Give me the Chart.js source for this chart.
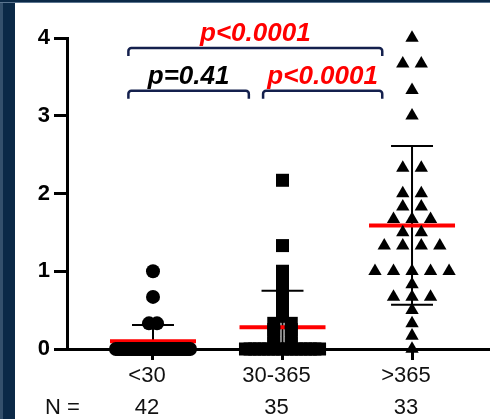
<!DOCTYPE html>
<html>
<head>
<meta charset="utf-8">
<script src="https://cdn.jsdelivr.net/npm/chart.js@4.4.1/dist/chart.umd.min.js"></script>
<style>
  html, body { margin: 0; padding: 0; background: #fff; }
  #wrap { position: relative; width: 490px; height: 419px; overflow: hidden; }
  #edgeLeft { position: absolute; left: 0; top: 0; width: 12px; height: 419px; background: #0b2947; border-left: 3px solid #34506c; }
  #edgeTop { position: absolute; left: 0; top: 0; width: 490px; height: 2px; background: #0b2947; border-bottom: 1px solid #5b7590; }
  canvas { position: absolute; left: 0; top: 0; }
</style>
</head>
<body>
<div id="wrap">
  <div id="edgeLeft"></div>
  <div id="edgeTop"></div>
  <canvas id="dotChart" width="490" height="419"></canvas>
</div>
<script>
// 分组与样本数
const groups = ["<30", "30-365", ">365"];
const groupN = [42, 35, 33];
const yTicks = [0, 1, 2, 3, 4];

// 各组个体值
const under30 = [1.0, 0.67, 0.33, 0.33,
  0, 0, 0, 0, 0, 0, 0, 0, 0, 0, 0, 0, 0, 0, 0, 0, 0, 0, 0,
  0, 0, 0, 0, 0, 0, 0, 0, 0, 0, 0, 0, 0, 0, 0, 0, 0, 0, 0];
const from30to365 = [2.17, 1.33, 1.0, 0.92, 0.83, 0.75, 0.67, 0.58, 0.5, 0.42,
  0.33, 0.33, 0.25, 0.25, 0.17, 0.17, 0.08, 0.08,
  0, 0, 0, 0, 0, 0, 0, 0, 0, 0, 0, 0, 0, 0, 0, 0, 0];
const over365 = [4.0, 3.67, 3.67, 3.33, 3.0, 2.33, 2.33, 2.0, 2.0, 1.83, 1.83,
  1.67, 1.67, 1.67, 1.5, 1.5, 1.33, 1.33, 1.33, 1.33,
  1.0, 1.0, 1.0, 1.0, 1.0, 0.83, 0.67, 0.67, 0.67, 0.5, 0.33, 0.17, 0];

// 均值 ± SD
const groupMean = [0.10, 0.28, 1.59];
const groupSD = [0.21, 0.47, 1.02];

// 两两比较的 p 值
const comparisons = [[1, 2], [2, 3], [1, 3]];
const pValues = ["p=0.41", "p<0.0001", "p<0.0001"];

const FONT = "'Liberation Sans', Arial, sans-serif";

// 同值的点横向排开（散点蜂群），step 为相邻点间距，整行最宽 0.572
function swarm(values, center, step) {
  const rows = new Map();
  values.forEach(v => {
    const k = v.toFixed(2);
    if (!rows.has(k)) rows.set(k, []);
    rows.get(k).push(v);
  });
  const pts = [];
  rows.forEach(row => {
    const n = row.length;
    const s = n > 1 ? Math.min(step, 0.572 / (n - 1)) : 0;
    row.forEach((v, i) => pts.push({ x: center + (i - (n - 1) / 2) * s, y: v }));
  });
  return pts;
}

const meanLine = [];
const sdBars = [];
groupMean.forEach((m, i) => {
  const c = i + 1;
  const hi = m + groupSD[i];
  const lo = m - groupSD[i];
  meanLine.push({ x: c - 0.332, y: m }, { x: c + 0.332, y: m }, { x: c, y: null });
  sdBars.push(
    { x: c - 0.162, y: hi }, { x: c + 0.162, y: hi }, { x: c, y: null },
    { x: c, y: hi }, { x: c, y: lo }, { x: c, y: null },
    { x: c - 0.162, y: lo }, { x: c + 0.162, y: lo }, { x: c, y: null }
  );
});

// 括号与 p 值标注
const bracketGeom = [
  { from: 0.81, to: 1.74, y: 3.32 },
  { from: 1.85, to: 2.77, y: 3.32 },
  { from: 0.81, to: 2.77, y: 3.87 }
];

const annotate = {
  id: "annotate",
  afterDraw(chart) {
    const { ctx, chartArea } = chart;
    const x = chart.scales.x;
    const y = chart.scales.y;
    ctx.save();
    comparisons.forEach((pair, i) => {
      const g = bracketGeom[i];
      const x1 = x.getPixelForValue(g.from);
      const x2 = x.getPixelForValue(g.to);
      const yb = y.getPixelForValue(g.y);
      const drop = 8;
      ctx.beginPath();
      ctx.moveTo(x1, yb + drop);
      ctx.arcTo(x1, yb, x1 + 4, yb, 3);
      ctx.arcTo(x2, yb, x2, yb + 4, 3);
      ctx.lineTo(x2, yb + drop);
      ctx.strokeStyle = "#14204d";
      ctx.lineWidth = 2.5;
      ctx.stroke();

      ctx.font = "italic bold 26px " + FONT;
      ctx.fillStyle = pValues[i].startsWith("p<") ? "#ff0000" : "#000";
      ctx.textAlign = "center";
      ctx.textBaseline = "alphabetic";
      ctx.fillText(pValues[i], (x1 + x2) / 2, yb - 7);
    });

    ctx.font = "22px " + FONT;
    ctx.fillStyle = "#111";
    ctx.textAlign = "left";
    ctx.textBaseline = "middle";
    ctx.fillText("N =", 45, chartArea.bottom + 59);
    ctx.restore();
  }
};

const pointBase = {
  showLine: false,
  pointBackgroundColor: "#000",
  pointBorderWidth: 0,
  clip: false,
  order: 0
};

new Chart(document.getElementById("dotChart"), {
  type: "scatter",
  data: {
    datasets: [
      Object.assign({ data: swarm(under30, 1, 0.062), pointStyle: "circle", pointRadius: 7 }, pointBase),
      Object.assign({ data: swarm(from30to365, 2, 0.135), pointStyle: "rect", pointRadius: 9.2 }, pointBase),
      Object.assign({ data: swarm(over365, 3, 0.143), pointStyle: "triangle", pointRadius: 7.7 }, pointBase),
      {
        data: meanLine, showLine: true, borderColor: "#ff0000", borderWidth: 4,
        pointRadius: 0, borderCapStyle: "butt", order: 1
      },
      {
        data: sdBars, showLine: true, borderColor: "#000", borderWidth: 2,
        pointRadius: 0, borderCapStyle: "butt", order: 2
      }
    ]
  },
  options: {
    responsive: false,
    animation: false,
    layout: { autoPadding: false, padding: { top: 38, left: 0, right: 0, bottom: 0 } },
    plugins: { legend: { display: false }, tooltip: { enabled: false } },
    scales: {
      x: {
        type: "linear",
        bounds: "data",
        min: 0.336,
        max: 3.602,
        afterBuildTicks: s => { s.ticks = groups.map((g, i) => ({ value: i + 1 })); },
        afterFit: s => { s.height = 70; s.paddingLeft = 0; s.paddingRight = 0; },
        border: { display: true, color: "#000", width: 3 },
        grid: { drawOnChartArea: false, tickLength: 11, tickWidth: 3, tickColor: "#000" },
        ticks: {
          padding: 0,
          labelOffset: -6,
          color: "#111",
          autoSkip: false,
          maxRotation: 0,
          font: { family: FONT, size: 22, lineHeight: 32 / 22 },
          callback: (v, i) => [groups[i], String(groupN[i])]
        }
      },
      y: {
        min: 0,
        max: 4,
        afterBuildTicks: s => { s.ticks = yTicks.map(v => ({ value: v })); },
        afterFit: s => { s.width = 67; },
        border: { display: true, color: "#000", width: 3 },
        grid: { drawOnChartArea: false, tickLength: 13, tickWidth: 3, tickColor: "#000" },
        ticks: {
          padding: 4,
          color: "#000",
          font: { family: FONT, size: 22, weight: "bold" }
        }
      }
    }
  },
  plugins: [annotate]
});
</script>
</body>
</html>
